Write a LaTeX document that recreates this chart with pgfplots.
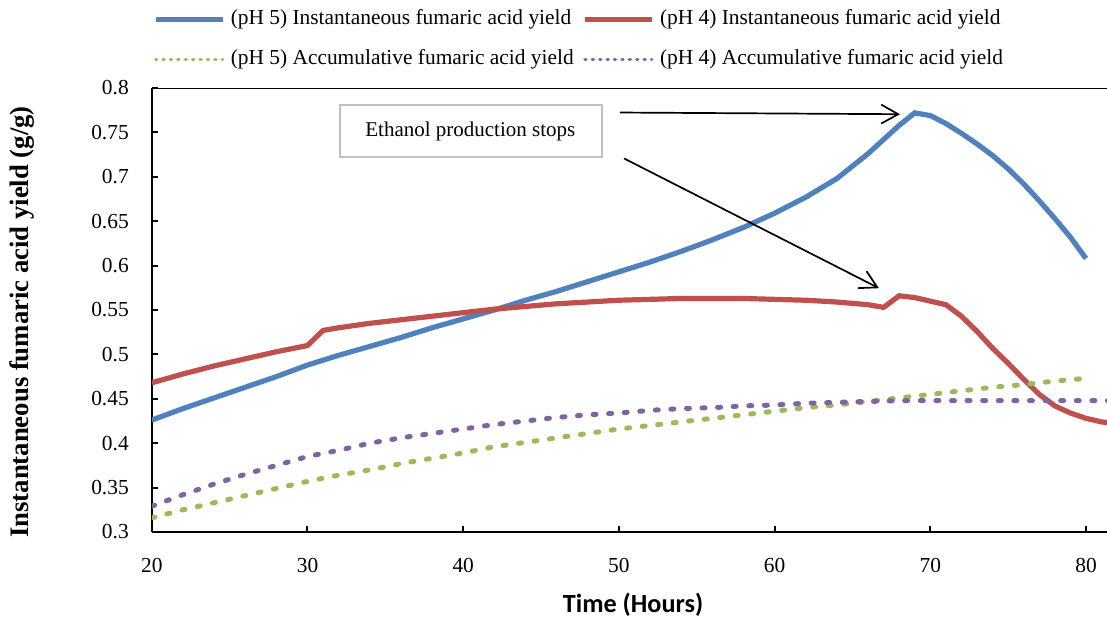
\documentclass[border=0pt]{standalone}
\usepackage{pgfplots}
\pgfplotsset{compat=1.18}
\usepackage{fontspec}
\setmainfont{Liberation Serif}
\newfontfamily\calfont{Carlito}
\usetikzlibrary{arrows.meta}
\definecolor{cblue}{HTML}{4F81BD}
\definecolor{cred}{HTML}{C0504D}
\definecolor{cgreen}{HTML}{9BBB59}
\definecolor{cpurple}{HTML}{8064A2}
\begin{document}
\begin{tikzpicture}
\path[use as bounding box] (-75.9pt,-42.5pt) rectangle (477.6pt,266pt);
\begin{axis}[
  scale only axis, width=477.6pt, height=222pt,
  at={(0,0)}, anchor=south west,
  xmin=20, xmax=81.35, ymin=0.3, ymax=0.8,
  axis x line*=bottom, axis y line*=left,
  axis line style={line width=1.2pt},
  tick align=inside, major tick length=3pt,
  tick style={line width=1pt, black},
  xtick={20,30,40,50,60,70,80},
  ytick={0.3,0.35,0.4,0.45,0.5,0.55,0.6,0.65,0.7,0.75,0.8},
  /pgf/number format/assume math mode=true,
  yticklabel style={/pgf/number format/fixed, /pgf/number format/precision=2, font=\fontsize{10.7}{12}\selectfont, xshift=-8pt},
  xticklabel style={font=\fontsize{10.7}{12}\selectfont, yshift=-9.5pt},
  xlabel={Time (Hours)},
  xlabel style={font=\calfont\bfseries\fontsize{13.1}{15}\selectfont, at={(axis description cs:0.5038,-0.163)}, anchor=center},
  ylabel={Instantaneous fumaric acid yield (g/g)},
  ylabel style={font=\bfseries\fontsize{13.35}{15}\selectfont, at={(axis description cs:-0.1361,0.473)}, anchor=center},
  legend columns=2,
  legend cell align=left,
  legend style={draw=none, fill=none, inner sep=0pt, row sep=10pt,
    at={(axis description cs:0,1)}, anchor=south west, xshift=0.6pt, yshift=9pt,
    font=\fontsize{10.7}{12}\selectfont,
    nodes={inner sep=0pt, text height=7.5pt, text depth=2.5pt},
    /tikz/every odd column/.append style={column sep=3pt},
    /tikz/every even column/.append style={column sep=4.5pt}},
  legend image code/.code={\draw[#1] (0pt,0pt) -- (33.5pt,0pt);},
]
% pH 5 instantaneous
\addplot[cblue, line width=2.6pt, forget plot] coordinates {
(20,0.426) (22,0.439) (24,0.451) (26,0.463) (28,0.475) (30,0.488) (32,0.499)
(34,0.509) (36,0.519) (38,0.530) (40,0.540) (42,0.550) (44,0.561) (46,0.571)
(48,0.582) (50,0.593) (52,0.604) (54,0.616) (56,0.629) (58,0.643) (60,0.659)
(62,0.677) (64,0.698) (66,0.726) (68,0.758) (69,0.772) (70,0.769) (71,0.760)
(72,0.749) (73,0.737) (74,0.724) (75,0.709) (76,0.692) (77,0.673) (78,0.653)
(79,0.632) (80,0.608)};
% pH 4 instantaneous
\addplot[cred, line width=2.6pt, forget plot] coordinates {
(20,0.468) (22,0.478) (24,0.487) (26,0.495) (28,0.503) (30,0.510) (31,0.527)
(32,0.530) (34,0.535) (36,0.539) (38,0.543) (40,0.547) (42,0.551) (44,0.554)
(46,0.557) (48,0.559) (50,0.561) (52,0.562) (54,0.563) (56,0.563) (58,0.563)
(60,0.562) (62,0.561) (64,0.559) (66,0.556) (67,0.553) (68,0.566) (69,0.564)
(70,0.560) (71,0.556) (72,0.543) (73,0.526) (74,0.507) (75,0.490) (76,0.472)
(77,0.455) (78,0.442) (79,0.434) (80,0.428) (81,0.424) (81.5,0.423)};
% pH 5 accumulative
\addplot[cgreen, line width=2.5pt, line cap=round, dash pattern=on 1.5pt off 6.3pt, forget plot] coordinates {
(20,0.316) (22,0.325) (24,0.333) (26,0.341) (28,0.349) (30,0.357) (32,0.364)
(34,0.370) (36,0.377) (38,0.383) (40,0.389) (42,0.396) (44,0.401) (46,0.406)
(48,0.411) (50,0.416) (52,0.420) (54,0.424) (56,0.428) (58,0.432) (60,0.436)
(62,0.440) (64,0.443) (66,0.447) (68,0.451) (70,0.455) (72,0.459) (74,0.463)
(76,0.466) (78,0.470) (80,0.473)};
% pH 4 accumulative
\addplot[cpurple, line width=2.5pt, line cap=round, dash pattern=on 1.5pt off 6.3pt, forget plot] coordinates {
(20,0.329) (22,0.342) (24,0.354) (26,0.365) (28,0.375) (30,0.385) (32,0.392)
(34,0.400) (36,0.406) (38,0.411) (40,0.416) (42,0.421) (44,0.425) (46,0.429)
(48,0.432) (50,0.434) (52,0.437) (54,0.439) (56,0.440) (58,0.442) (60,0.443)
(62,0.445) (64,0.446) (66,0.447) (68,0.448) (70,0.448) (72,0.448) (74,0.448)
(76,0.448) (78,0.448) (80,0.448) (81.5,0.448)};
\addlegendimage{cblue, line width=2.2pt}
\addlegendentry{(pH 5) Instantaneous fumaric acid yield}
\addlegendimage{cred, line width=2.2pt}
\addlegendentry{(pH 4) Instantaneous fumaric acid yield}
\addlegendimage{cgreen, line width=1.6pt, line cap=round, dash pattern=on 0.6pt off 3.1pt}
\addlegendentry{(pH 5) Accumulative fumaric acid yield}
\addlegendimage{cpurple, line width=1.6pt, line cap=round, dash pattern=on 0.6pt off 3.1pt}
\addlegendentry{(pH 4) Accumulative fumaric acid yield}
\draw[gray!50, line width=1pt] (axis cs:32.09,0.7221) rectangle (axis cs:48.91,0.7806);
\node[font=\fontsize{10.5}{12}\selectfont] at (axis cs:40.46,0.7513) {Ethanol production stops};
\draw[line width=0.85pt, -{Straight Barb[length=8.5pt,width=9.5pt]}] (axis cs:50.07,0.7724) -- (axis cs:68.05,0.7705);
\draw[line width=0.85pt, -{Straight Barb[length=8.5pt,width=9.5pt]}] (axis cs:50.33,0.7207) -- (axis cs:66.70,0.5746);
\draw[line width=1pt] (rel axis cs:0,1) -- (rel axis cs:1,1);
\end{axis}
\end{tikzpicture}
\end{document}
